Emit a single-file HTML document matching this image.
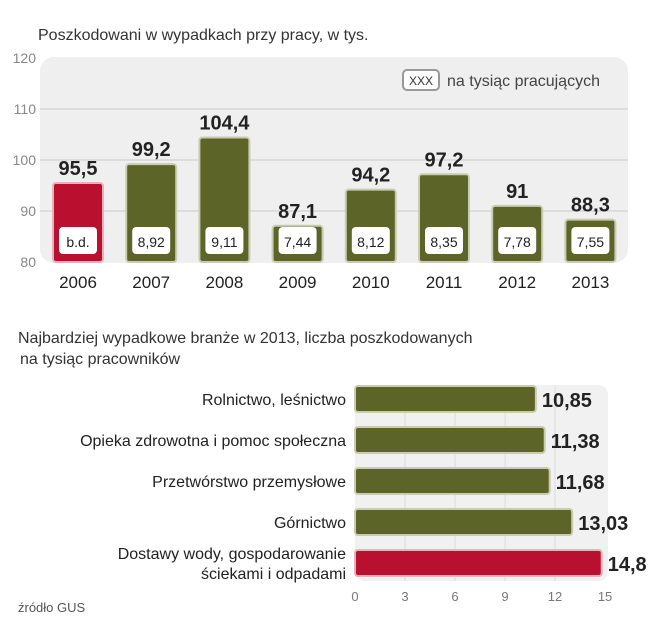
<!DOCTYPE html>
<html><head><meta charset="utf-8"><style>
body{margin:0;background:#fff;font-family:"Liberation Sans","DejaVu Sans",sans-serif;}
svg{display:block}
</style></head><body>
<svg id="c" width="666" height="640" xmlns="http://www.w3.org/2000/svg">
<text x="38" y="40" font-size="16" fill="#333">Poszkodowani w wypadkach przy pracy, w tys.</text>
<rect x="40" y="57" width="588" height="206" rx="14" fill="#efefef"/>
<g id="topg"></g>
<rect x="403" y="70" width="36" height="20" rx="4" fill="#fff" stroke="#999" stroke-width="2"/>
<text x="421" y="85" font-size="12" text-anchor="middle" fill="#333">XXX</text>
<text x="447" y="86" font-size="16" fill="#444">na tysiąc pracujących</text>
<text x="18" y="343" font-size="16" fill="#333">Najbardziej wypadkowe branże w 2013, liczba poszkodowanych</text>
<text x="20" y="364" font-size="16" fill="#333">na tysiąc pracowników</text>
<rect x="355" y="385" width="253" height="196" rx="10" fill="#f1f1f1"/>
<g id="botg"></g>
<text x="18" y="612" font-size="13" fill="#555">źródło GUS</text>
</svg>
<script>
const years=["2006","2007","2008","2009","2010","2011","2012","2013"];
const victims=[95.5,99.2,104.4,87.1,94.2,97.2,91,88.3];
const victimLabels=["95,5","99,2","104,4","87,1","94,2","97,2","91","88,3"];
const perThousand=["b.d.","8,92","9,11","7,44","8,12","8,35","7,78","7,55"];
const yTicks=[80,90,100,110,120];
const industries=["Rolnictwo, leśnictwo","Opieka zdrowotna i pomoc społeczna","Przetwórstwo przemysłowe","Górnictwo","Dostawy wody, gospodarowanie|ściekami i odpadami"];
const rates=[10.85,11.38,11.68,13.03,14.8];
const rateLabels=["10,85","11,38","11,68","13,03","14,8"];
const xTicks=[0,3,6,9,12,15];
const NS="http://www.w3.org/2000/svg";
function mk(p,t,a,txt){const e=document.createElementNS(NS,t);for(const k in a)e.setAttribute(k,a[k]);if(txt!=null)e.textContent=txt;p.appendChild(e);return e;}
const yS=v=>262-(v-80)*5.1;
const xc=i=>78+i*73.2;
const gTop=document.getElementById('topg');
yTicks.forEach(t=>{
 if(t>80&&t<120){const l=mk(gTop,'line',{x1:40,x2:628,y1:yS(t),y2:yS(t),stroke:'#d6d6d6','stroke-width':1.5});
 
 }
 const tx=mk(gTop,'text',{x:36,y:yS(t)+5,'font-size':14,fill:'#888','text-anchor':'end'},t);
 
 
});
victims.forEach((v,i)=>{
 const c=xc(i),red=i===0;
 const r=mk(gTop,'rect',{x:c-25,y:yS(v),width:50,height:262-yS(v),rx:3,fill:red?'#b8102e':'#5c6428',stroke:red?'#e8b0b8':'#c8ccb0','stroke-width':2});
 
 
 const b=mk(gTop,'rect',{x:c-19,y:227,width:38,height:27,rx:4,fill:'#fff'});
 
 
 const bt=mk(gTop,'text',{x:c,y:247,'font-size':14,'text-anchor':'middle',fill:'#222'},perThousand[i]);
 
 
 const vt=mk(gTop,'text',{x:c,y:yS(v)-8,'font-size':20,'font-weight':'bold','text-anchor':'middle',fill:'#222'},victimLabels[i]);
 
 
 const yt=mk(gTop,'text',{x:c,y:288,'font-size':17,'text-anchor':'middle',fill:'#222'},years[i]);
 
 
});
const gBot=document.getElementById('botg');
const xS=v=>355+v*16.67;
const rowY=i=>399+i*41;
xTicks.forEach(t=>{
 if(t>0&&t<15){const l=mk(gBot,'line',{x1:xS(t),x2:xS(t),y1:385,y2:581,stroke:'#dcdcdc','stroke-width':1});
 
 }
 const tx=mk(gBot,'text',{x:xS(t),y:601,'font-size':13,fill:'#777','text-anchor':'middle'},t);
 
 
});
rates.forEach((v,i)=>{
 const cy=rowY(i),red=i===4;
 const r=mk(gBot,'rect',{x:xS(0),y:cy-13,width:xS(v)-xS(0),height:26,rx:3,fill:red?'#b8102e':'#5c6428',stroke:red?'#e8b0b8':'#c8ccb0','stroke-width':2});
 
 
 const vt=mk(gBot,'text',{x:xS(v)+6,y:cy+8,'font-size':20,'font-weight':'bold',fill:'#222'},rateLabels[i]);
 
 
 const parts=industries[i].split('|');
 parts.forEach((p,j)=>{
  const ty=parts.length>1?cy-4+j*20:cy+6;
  const lt=mk(gBot,'text',{x:346,y:ty,'font-size':16,'text-anchor':'end',fill:'#222'},p);
  
  
 });
});
</script>
</body></html>
